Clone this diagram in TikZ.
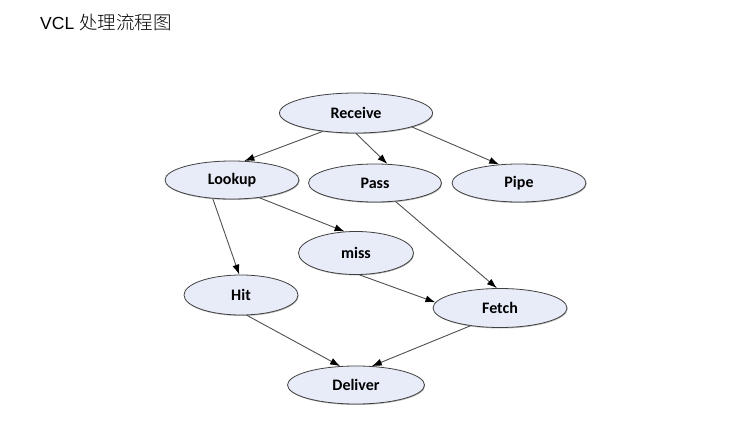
\documentclass[tikz,border=0pt]{standalone}
\usepackage{fontspec}
\setmainfont{Carlito}
\newfontfamily\titlefont{Liberation Sans}
\newfontfamily\cjk{Noto Sans CJK SC Light}
\usetikzlibrary{shapes.geometric,arrows.meta,shadows}
\definecolor{nodefill}{RGB}{232,236,248}
\definecolor{edgegray}{RGB}{80,80,80}
\tikzset{
  st/.style={ellipse, draw=black!75, line width=0.8pt, fill=nodefill, inner sep=0pt,
    minimum height=38pt, font=\bfseries\fontsize{16}{18}\selectfont,
    drop shadow={shadow xshift=0.6pt, shadow yshift=-1pt, fill=black!45, opacity=0.6}},
  conn/.style={draw=edgegray, line width=0.9pt, -{Latex[length=10pt,width=7pt,color=black]}}
}
\begin{document}
\begin{tikzpicture}[x=1pt,y=-1pt]
\useasboundingbox (0,0) rectangle (743,427);
\node[anchor=west, inner sep=0pt] (title) at (40,22) {\titlefont\fontsize{17.5}{20}\selectfont VCL {\cjk\fontsize{18.5}{20}\selectfont 处理流程图}};
\node[st, minimum width=153pt, minimum height=40pt] (receive) at (356,113) {Receive};
\node[st, minimum width=134pt] (lookup) at (232,180) {Lookup};
\node[st, minimum width=133pt] (pass) at (375,183) {Pass};
\node[st, minimum width=134pt] (pipe) at (519,183) {Pipe};
\node[st, minimum width=115pt, minimum height=43pt] (miss) at (356,253) {miss};
\node[st, minimum width=114pt, minimum height=40pt] (hit) at (241,295) {Hit};
\node[st, minimum width=134pt, minimum height=39pt] (fetch) at (500,308) {Fetch};
\node[st, minimum width=137pt] (deliver) at (356,385) {Deliver};
\draw[conn] (receive.209) -- (lookup.57);
\draw[conn] (receive.270) -- (pass.57);
\draw[conn] (receive.346) -- (pipe.137);
\draw[conn] (lookup.224) -- (hit.95);
\draw[conn] (lookup.327) -- (miss.118);
\draw[conn] (pass.318) -- (fetch.99);
\draw[conn] (miss.279) -- (fetch.175);
\draw[conn] (hit.286) -- (deliver.130);
\draw[conn] (fetch.211) -- (deliver.50);
\end{tikzpicture}
\end{document}
